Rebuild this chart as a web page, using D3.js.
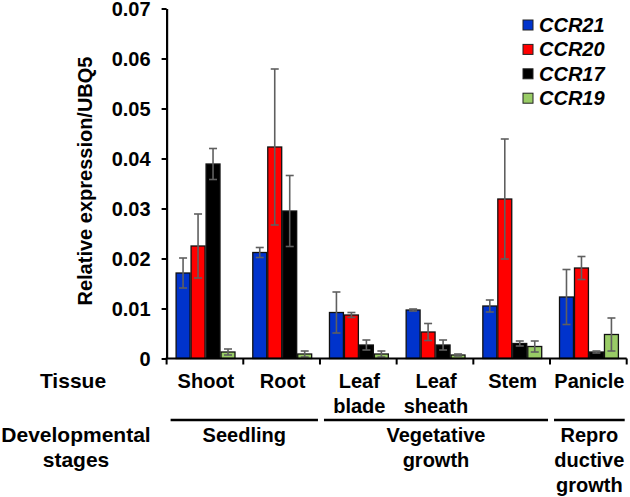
<!DOCTYPE html>
<html>
<head>
<meta charset="utf-8">
<script src="https://cdn.jsdelivr.net/npm/d3@7"></script>
<style>
html,body{margin:0;padding:0;background:#fff;}
svg text{font-family:"Liberation Sans",Arial,sans-serif;font-weight:bold;fill:#000;}
</style>
</head>
<body>
<svg id="chart" width="630" height="497"></svg>
<script>
const categories = ["Shoot","Root","Leaf blade","Leaf sheath","Stem","Panicle"];
const seriesNames = ["CCR21","CCR20","CCR17","CCR19"];
const seriesColors = ["#0033cc","#ff0000","#000000","#99cc66"];
const ccr21 = [0.0171,0.0212,0.0092,0.0097,0.0105,0.0123];
const ccr21Err = [0.0030,0.0010,0.0041,0.0002,0.0012,0.0055];
const ccr20 = [0.0225,0.0423,0.0087,0.0053,0.0319,0.0181];
const ccr20Err = [0.0064,0.0156,0.0005,0.0017,0.0120,0.0023];
const ccr17 = [0.0389,0.0295,0.0027,0.0027,0.0030,0.0013];
const ccr17Err = [0.0031,0.0071,0.0010,0.0010,0.0005,0.0002];
const ccr19 = [0.0013,0.0009,0.0009,0.0007,0.0024,0.0048];
const ccr19Err = [0.0006,0.0006,0.0006,0.0002,0.0011,0.0033];
const yTicks = [0,0.01,0.02,0.03,0.04,0.05,0.06,0.07];
const stages = [
  {lines:["Seedling"], from:0, to:1},
  {lines:["Vegetative","growth"], from:2, to:4},
  {lines:["Repro","ductive","growth"], from:5, to:5}
];

const values = [ccr21, ccr20, ccr17, ccr19];
const errors = [ccr21Err, ccr20Err, ccr17Err, ccr19Err];

const svg = d3.select("#chart");
const plotLeft = 166.6, plotRight = 626.7, plotTop = 8.5, plotBottom = 358.5;

const x0 = d3.scaleBand().domain(categories).range([plotLeft, plotRight]).padding(0);
const x1 = d3.scaleBand().domain(seriesNames)
  .range([9.5, x0.bandwidth() - 8.3]).paddingInner(0.07).paddingOuter(0);
const y = d3.scaleLinear().domain([0, 0.07]).range([plotBottom, plotTop]);

// bars
const groups = svg.append("g").selectAll("g").data(categories).join("g")
  .attr("transform", d => `translate(${x0(d)},0)`);

const barData = (c, ci) => seriesNames.map((s, si) => ({s, si, v: values[si][ci], e: errors[si][ci]}));

groups.each(function(c, ci){
  const g = d3.select(this);
  const data = barData(c, ci);
  g.selectAll("rect").data(data).join("rect")
    .attr("x", d => x1(d.s))
    .attr("y", d => y(d.v))
    .attr("width", x1.bandwidth())
    .attr("height", d => y(0) - y(d.v))
    .attr("fill", d => seriesColors[d.si])
    .attr("stroke", "#111")
    .attr("stroke-width", 1.3);
  const eb = g.selectAll("g.err").data(data).join("g").attr("class","err")
    .attr("stroke", "#5f5f5f").attr("stroke-width", 1.6);
  eb.append("line")
    .attr("x1", d => x1(d.s) + x1.bandwidth()/2)
    .attr("x2", d => x1(d.s) + x1.bandwidth()/2)
    .attr("y1", d => y(d.v + d.e))
    .attr("y2", d => y(Math.max(0, d.v - d.e)));
  eb.append("line")
    .attr("x1", d => x1(d.s) + x1.bandwidth()/2 - 4)
    .attr("x2", d => x1(d.s) + x1.bandwidth()/2 + 4)
    .attr("y1", d => y(d.v + d.e))
    .attr("y2", d => y(d.v + d.e));
  eb.append("line")
    .attr("x1", d => x1(d.s) + x1.bandwidth()/2 - 4)
    .attr("x2", d => x1(d.s) + x1.bandwidth()/2 + 4)
    .attr("y1", d => y(Math.max(0, d.v - d.e)))
    .attr("y2", d => y(Math.max(0, d.v - d.e)));
});

// y axis
const yAxis = d3.axisLeft(y).tickValues(yTicks)
  .tickFormat(d => d === 0 ? "0" : d3.format(".2f")(d))
  .tickSize(5).tickPadding(11).tickSizeOuter(0);
const gy = svg.append("g").attr("transform", `translate(${plotLeft},0)`).call(yAxis);
gy.select(".domain").attr("stroke", "#000").attr("stroke-width", 2.2);
gy.selectAll(".tick line").attr("stroke", "#000").attr("stroke-width", 2);
gy.selectAll(".tick text").style("font-size", "20px").attr("dy", "0.37em");

// x axis with ticks at category boundaries
const boundaries = categories.map(c => x0(c)).concat([plotRight]);
const gx = svg.append("g");
gx.append("line").attr("x1", plotLeft - 1).attr("x2", plotRight).attr("y1", plotBottom).attr("y2", plotBottom)
  .attr("stroke", "#000").attr("stroke-width", 2.2);
gx.selectAll("line.tk").data(boundaries).join("line").attr("class","tk")
  .attr("x1", d => d).attr("x2", d => d).attr("y1", plotBottom).attr("y2", plotBottom + 6)
  .attr("stroke", "#000").attr("stroke-width", 2);

// y axis title
svg.append("text")
  .attr("transform", `translate(92,181) rotate(-90)`)
  .attr("text-anchor", "middle")
  .style("font-size", "20px")
  .text("Relative expression/UBQ5");

// tissue labels
svg.append("text").attr("x", 73).attr("y", 388).attr("text-anchor","middle")
  .style("font-size","21px").text("Tissue");
categories.forEach(c => {
  const words = c.split(" ");
  const t = svg.append("text").attr("x", x0(c) + x0.bandwidth()/2 + 1).attr("y", 388)
    .attr("text-anchor","middle").style("font-size","20px");
  words.forEach((w, i) => {
    t.append("tspan").attr("x", x0(c) + x0.bandwidth()/2 + 1).attr("y", 388 + i*25).text(w);
  });
});

// stages
const sd = svg.append("text").attr("text-anchor","middle").style("font-size","21px");
sd.append("tspan").attr("x", 76).attr("y", 442).text("Developmental");
sd.append("tspan").attr("x", 76).attr("y", 467).text("stages");

stages.forEach(st => {
  const xs1 = x0(categories[st.from]) + 4;
  const xs2 = x0(categories[st.to]) + x0.bandwidth() - 2;
  svg.append("line").attr("x1", xs1).attr("x2", xs2).attr("y1", 420).attr("y2", 420)
    .attr("stroke","#000").attr("stroke-width", 2.6);
  const cx = (xs1 + xs2)/2;
  const t = svg.append("text").attr("text-anchor","middle").style("font-size","20px");
  st.lines.forEach((l, i) => t.append("tspan").attr("x", cx).attr("y", 442 + i*25).text(l));
});

// legend
const lg = svg.append("g").attr("transform","translate(523,0)");
seriesNames.forEach((s, i) => {
  const cy = 25 + i*24.4;
  lg.append("rect").attr("x", 0).attr("y", cy - 5).attr("width", 10).attr("height", 10)
    .attr("fill", seriesColors[i]).attr("stroke", "#222").attr("stroke-width", 1);
  lg.append("text").attr("x", 16).attr("y", cy + 7).style("font-size","20px")
    .style("font-style","italic").text(s);
});
</script>
</body>
</html>
